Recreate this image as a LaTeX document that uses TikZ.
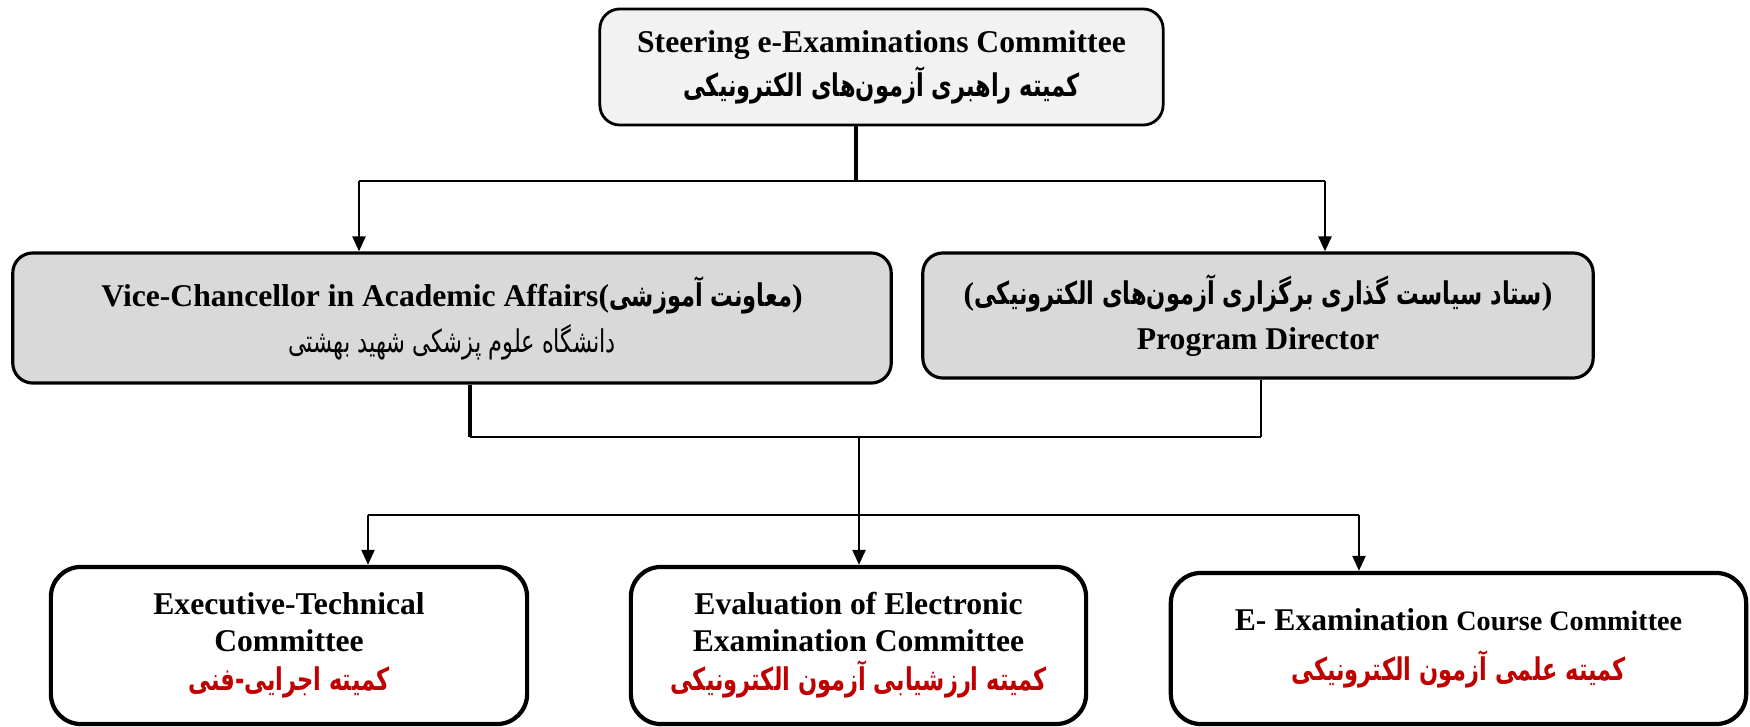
\documentclass[tikz,border=0pt]{standalone}
\usepackage{fontspec}
\setmainfont{Liberation Serif}
\newfontfamily\fa[Script=Arabic,FakeStretch=0.72]{DejaVu Sans}
\TeXXeTstate=1
\usetikzlibrary{arrows.meta}
\definecolor{farsired}{HTML}{C00000}
\definecolor{topfill}{HTML}{F2F2F2}
\definecolor{midfill}{HTML}{D9D9D9}
\newcommand\fab[1]{{\fontsize{8.9}{12}\fa\bfseries\beginR #1\endR}}
\newcommand\far[1]{{\fontsize{8.9}{12}\fa\mdseries\beginR #1\endR}}
\tikzset{
  box/.style={draw, align=center, inner sep=0pt, font=\fontsize{9}{10.6}\selectfont\bfseries},
  topbox/.style={box, fill=topfill, line width=0.8pt, rounded corners=2mm},
  midbox/.style={box, fill=midfill, line width=0.9pt, rounded corners=2mm},
  lowbox/.style={box, fill=white, line width=1.2pt, rounded corners=3mm},
  conn/.style={line width=0.7pt},
  thick conn/.style={line width=1.2pt},
  arr/.style={conn, -{Triangle[width=1.3mm,length=1.5mm]}}
}
\begin{document}
\begin{tikzpicture}[x=0.01cm,y=-0.01cm]
\useasboundingbox (0,0) rectangle (1750,727);
% boxes
\node[topbox, minimum width=5.63cm, minimum height=1.16cm] (top) at (881.5,67)
  {Steering e-Examinations Committee\\[2pt] \fab{کمیته راهبری آزمون‌های الکترونیکی}};
\node[midbox, minimum width=8.78cm, minimum height=1.30cm] (vc) at (452,318)
  {Vice-Chancellor in Academic Affairs(\fab{معاونت آموزشی})\\[2.5pt] \far{دانشگاه علوم پزشکی شهید بهشتی}};
\node[midbox, minimum width=6.70cm, minimum height=1.25cm] (pd) at (1258,315.5)
  {(\fab{ستاد سیاست گذاری برگزاری آزمون‌های الکترونیکی})\\[2pt] Program Director};
\node[lowbox, minimum width=4.76cm, minimum height=1.57cm] (et) at (289,645.5)
  {Executive-Technical\\ Committee\\[0.5pt] \textcolor{farsired}{\fab{کمیته اجرایی-فنی}}};
\node[lowbox, minimum width=4.55cm, minimum height=1.57cm] (ev) at (858.5,645.5)
  {Evaluation of Electronic\\ Examination Committee\\[0.5pt] \textcolor{farsired}{\fab{کمیته ارزشیابی آزمون الکترونیکی}}};
\node[lowbox, minimum width=5.75cm, minimum height=1.51cm] (ec) at (1458.5,648.5)
  {E- Examination {\fontsize{8}{12}\selectfont Course Committee}\\[3.5pt] \textcolor{farsired}{\fab{کمیته علمی آزمون الکترونیکی}}};
% junctions
\coordinate (j1) at (856,181);
\coordinate (h1l) at (359,181);
\coordinate (h1r) at (1325,181);
\coordinate (j2l) at (470,437);
\coordinate (j2r) at (1261,437);
\coordinate (j2m) at (859,437);
\coordinate (j3) at (859,515);
\coordinate (h3l) at (368,515);
\coordinate (h3r) at (1359,515);
% connectors
\draw[thick conn] (top.south -| j1) -- (j1);
\draw[conn] (h1l) -- (h1r);
\draw[arr] (h1l) -- (h1l |- vc.north);
\draw[arr] (h1r) -- (h1r |- pd.north);
\draw[line width=1.4pt] (vc.south -| j2l) -- (j2l);
\draw[conn] (j2l) -- (j2r);
\draw[conn] (pd.south -| j2r) -- (j2r);
\draw[conn] (j2m) -- (j3);
\draw[conn] (h3l) -- (h3r);
\draw[arr] (h3l) -- (h3l |- et.north);
\draw[arr] (j3) -- (j3 |- ev.north);
\draw[arr] (h3r) -- (h3r |- ec.north);
\end{tikzpicture}
\end{document}
